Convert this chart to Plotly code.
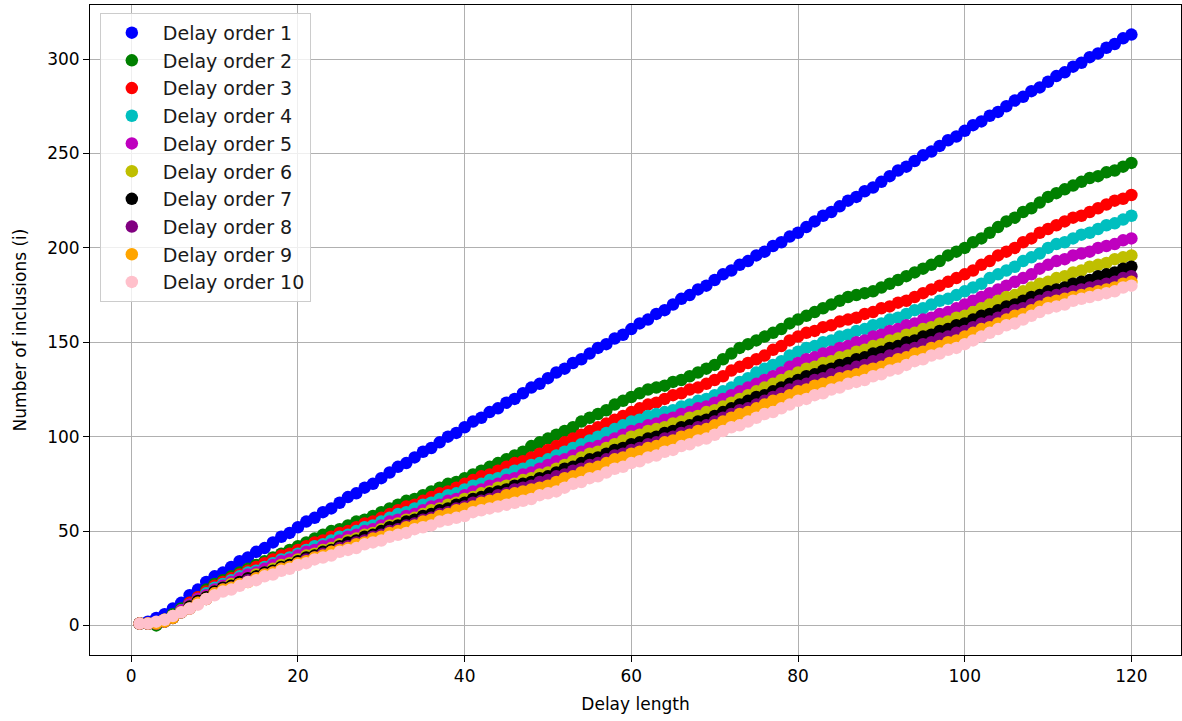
import plotly.graph_objects as go

delay_length = list(range(1, 121))

order_1 = [
    1, 2, 4, 6, 9, 12, 16, 19, 23, 26,
    28, 31, 34, 36, 39, 41, 44, 47, 49, 52,
    55, 57, 60, 62, 65, 68, 70, 73, 75, 78,
    81, 84, 86, 89, 92, 94, 97, 100, 102, 105,
    108, 110, 113, 115, 118, 120, 123, 126, 128, 131,
    134, 136, 139, 141, 144, 147, 149, 152, 154, 157,
    160, 162, 165, 167, 170, 173, 175, 178, 180, 183,
    186, 188, 191, 193, 196, 198, 201, 203, 206, 208,
    211, 214, 217, 219, 222, 225, 227, 230, 232, 235,
    238, 241, 243, 246, 249, 251, 254, 257, 259, 262,
    265, 267, 270, 272, 275, 278, 280, 283, 285, 288,
    291, 293, 296, 298, 301, 303, 306, 308, 311, 313,
]
order_2 = [
    1, 1, 0, 3, 6, 9, 12, 15, 19, 22,
    24, 26, 28, 30, 32, 34, 36, 38, 40, 42,
    44, 46, 48, 50, 51, 53, 55, 56, 58, 60,
    62, 64, 66, 67, 69, 71, 73, 75, 76, 78,
    80, 82, 84, 86, 88, 90, 92, 95, 97, 99,
    101, 103, 105, 108, 110, 112, 114, 117, 119, 121,
    123, 125, 126, 127, 129, 130, 132, 134, 136, 138,
    141, 144, 147, 149, 151, 153, 155, 157, 160, 162,
    164, 166, 168, 170, 172, 174, 175, 176, 177, 179,
    181, 183, 185, 187, 189, 191, 193, 196, 198, 200,
    203, 205, 208, 211, 214, 216, 219, 221, 224, 227,
    229, 231, 233, 235, 237, 238, 240, 241, 243, 245,
]
order_3 = [
    1, 1, 1, 3, 5, 8, 12, 15, 18, 21,
    23, 25, 27, 29, 31, 33, 35, 37, 38, 40,
    42, 44, 45, 47, 49, 50, 52, 54, 55, 57,
    59, 61, 63, 64, 66, 68, 70, 71, 73, 75,
    77, 79, 80, 82, 84, 86, 87, 89, 91, 93,
    95, 97, 99, 101, 103, 105, 107, 109, 111, 113,
    115, 117, 118, 120, 122, 123, 125, 126, 128, 130,
    132, 135, 137, 139, 141, 143, 146, 148, 151, 153,
    155, 156, 158, 159, 161, 162, 163, 165, 166, 168,
    169, 171, 172, 174, 176, 178, 180, 182, 184, 186,
    188, 191, 193, 196, 198, 200, 203, 205, 208, 210,
    212, 214, 216, 217, 219, 221, 223, 225, 226, 228,
]
order_4 = [
    1, 1, 1, 3, 5, 8, 11, 14, 17, 20,
    22, 24, 26, 28, 29, 31, 33, 35, 36, 38,
    40, 42, 43, 45, 47, 48, 50, 52, 53, 55,
    57, 59, 60, 62, 64, 65, 67, 69, 70, 72,
    74, 75, 77, 78, 80, 82, 83, 85, 86, 88,
    90, 92, 94, 96, 98, 100, 102, 104, 106, 108,
    109, 111, 112, 113, 114, 116, 117, 119, 120, 122,
    124, 126, 129, 131, 134, 136, 138, 140, 143, 145,
    147, 148, 150, 151, 153, 154, 156, 157, 159, 160,
    162, 163, 165, 167, 168, 170, 172, 173, 175, 177,
    179, 181, 184, 186, 188, 190, 193, 195, 197, 200,
    202, 203, 205, 207, 208, 210, 212, 213, 215, 217,
]
order_5 = [
    1, 1, 1, 3, 5, 8, 11, 14, 16, 19,
    21, 23, 25, 27, 28, 30, 32, 34, 35, 37,
    39, 40, 42, 43, 45, 47, 48, 50, 51, 53,
    55, 56, 58, 59, 61, 63, 64, 66, 67, 69,
    71, 72, 74, 75, 77, 78, 80, 81, 83, 85,
    87, 88, 90, 92, 94, 95, 97, 99, 101, 103,
    104, 106, 107, 109, 110, 112, 113, 115, 116, 118,
    120, 122, 124, 126, 128, 130, 132, 134, 137, 139,
    141, 142, 144, 145, 147, 148, 150, 151, 153, 154,
    156, 157, 159, 160, 162, 163, 165, 166, 168, 170,
    172, 174, 176, 178, 180, 182, 184, 186, 189, 191,
    193, 194, 196, 197, 198, 200, 201, 202, 204, 205,
]
order_6 = [
    1, 1, 1, 3, 5, 7, 10, 13, 15, 18,
    20, 22, 23, 25, 27, 28, 30, 32, 33, 35,
    37, 38, 40, 41, 43, 45, 46, 48, 49, 51,
    53, 54, 56, 57, 59, 61, 62, 64, 65, 67,
    68, 70, 71, 73, 74, 75, 77, 78, 80, 81,
    83, 85, 87, 89, 91, 92, 94, 96, 98, 100,
    101, 103, 104, 105, 107, 108, 110, 111, 113, 114,
    116, 118, 120, 122, 124, 126, 128, 130, 132, 134,
    136, 137, 139, 140, 142, 143, 145, 146, 148, 149,
    151, 152, 154, 155, 157, 158, 160, 161, 163, 164,
    166, 168, 170, 172, 174, 175, 177, 179, 181, 182,
    184, 185, 187, 188, 190, 191, 192, 194, 195, 196,
]
order_7 = [
    1, 1, 1, 2, 4, 7, 10, 13, 15, 18,
    20, 21, 23, 25, 26, 28, 29, 31, 32, 34,
    36, 37, 39, 40, 42, 44, 45, 47, 48, 50,
    52, 53, 55, 56, 58, 59, 61, 62, 64, 65,
    67, 68, 70, 71, 72, 74, 75, 76, 78, 79,
    81, 83, 84, 86, 88, 89, 91, 93, 94, 96,
    97, 99, 100, 102, 103, 105, 106, 108, 109, 111,
    113, 115, 117, 119, 121, 122, 124, 126, 128, 130,
    132, 133, 135, 136, 138, 139, 141, 142, 144, 145,
    147, 148, 150, 151, 153, 154, 156, 157, 159, 160,
    162, 164, 165, 167, 169, 170, 172, 174, 175, 177,
    178, 179, 181, 182, 183, 185, 186, 187, 189, 190,
]
order_8 = [
    1, 1, 1, 2, 4, 7, 9, 12, 14, 17,
    19, 20, 22, 24, 25, 27, 28, 30, 31, 33,
    35, 36, 38, 39, 41, 42, 44, 45, 47, 48,
    50, 51, 53, 54, 56, 57, 59, 60, 62, 63,
    65, 66, 67, 69, 70, 72, 73, 74, 76, 77,
    79, 80, 82, 83, 85, 86, 88, 90, 91, 93,
    94, 96, 97, 99, 100, 102, 103, 105, 106, 108,
    110, 112, 114, 115, 117, 119, 121, 123, 125, 127,
    128, 130, 131, 133, 134, 135, 137, 138, 140, 141,
    143, 144, 146, 147, 149, 150, 152, 153, 155, 156,
    158, 160, 161, 163, 165, 167, 168, 170, 172, 174,
    175, 176, 177, 178, 179, 180, 181, 182, 184, 185,
]
order_9 = [
    1, 1, 1, 2, 4, 7, 9, 12, 14, 17,
    19, 20, 22, 23, 25, 27, 28, 30, 31, 33,
    34, 36, 37, 39, 40, 41, 43, 44, 46, 47,
    49, 50, 52, 53, 55, 56, 58, 59, 61, 62,
    63, 65, 66, 67, 69, 70, 71, 72, 73, 74,
    76, 78, 79, 81, 83, 84, 86, 88, 89, 91,
    92, 94, 95, 97, 98, 100, 101, 103, 104, 106,
    108, 110, 112, 113, 115, 117, 119, 120, 122, 124,
    125, 127, 128, 129, 131, 132, 133, 135, 136, 137,
    139, 141, 142, 144, 145, 147, 148, 150, 151, 153,
    155, 157, 158, 160, 162, 164, 165, 167, 169, 171,
    172, 173, 174, 175, 176, 177, 178, 179, 181, 182,
]
order_10 = [
    1, 1, 2, 3, 5, 7, 9, 11, 14, 16,
    18, 19, 21, 23, 24, 26, 27, 29, 30, 32,
    33, 35, 36, 37, 39, 40, 41, 43, 44, 45,
    47, 48, 49, 51, 52, 53, 55, 56, 57, 58,
    60, 61, 62, 63, 64, 65, 66, 67, 69, 70,
    71, 73, 75, 76, 78, 79, 81, 83, 84, 86,
    87, 89, 90, 92, 93, 95, 96, 98, 99, 101,
    103, 105, 106, 108, 110, 112, 113, 115, 117, 119,
    120, 122, 123, 125, 126, 128, 129, 130, 132, 133,
    135, 136, 138, 140, 141, 143, 144, 146, 147, 149,
    151, 153, 155, 157, 159, 160, 162, 164, 166, 168,
    169, 170, 172, 173, 174, 175, 176, 177, 179, 180,
]

series_names = [f"Delay order {k}" for k in range(1, 11)]
series_values = [order_1, order_2, order_3, order_4, order_5,
                 order_6, order_7, order_8, order_9, order_10]
series_colors = ["#0000ff", "#008000", "#ff0000", "#00bfbf", "#bf00bf",
                 "#bfbf00", "#000000", "#800080", "#ffa500", "#ffc0cb"]

x_ticks = [0, 20, 40, 60, 80, 100, 120]
y_ticks = [0, 50, 100, 150, 200, 250, 300]

FONT = "DejaVu Sans"

fig = go.Figure()
for name, vals, col in zip(series_names, series_values, series_colors):
    fig.add_trace(go.Scatter(
        x=delay_length, y=vals, mode="markers", name=name,
        marker=dict(color=col, size=12.5, line=dict(width=0)),
    ))

axis_common = dict(
    showline=True, linecolor="black", linewidth=1, mirror=True,
    showgrid=True, gridcolor="#b0b0b0", gridwidth=1,
    zeroline=False, ticks="outside", ticklen=6, tickwidth=1,
    tickcolor="black", tickfont=dict(family=FONT, size=17, color="black"),
)

fig.update_layout(
    width=1182, height=721,
    margin=dict(l=90, r=1, t=5, b=66),
    paper_bgcolor="white", plot_bgcolor="white",
    font=dict(family=FONT, size=17, color="black"),
    xaxis=dict(range=[-4.95, 125.95], tickvals=x_ticks,
               title=dict(text="Delay length", font=dict(family=FONT, size=17), standoff=12),
               **axis_common),
    yaxis=dict(range=[-15.65, 328.65], tickvals=y_ticks,
               title=dict(text="Number of inclusions (i)", font=dict(family=FONT, size=17), standoff=16),
               **axis_common),
    legend=dict(
        x=0.009, y=0.988, xanchor="left", yanchor="top",
        bgcolor="rgba(255,255,255,0.8)", bordercolor="#cccccc", borderwidth=1,
        font=dict(family=FONT, size=19, color="#1a1a1a"),
        itemsizing="trace", itemwidth=52, tracegroupgap=0,
    ),
    showlegend=True,
)

fig.write_html("out.html")
